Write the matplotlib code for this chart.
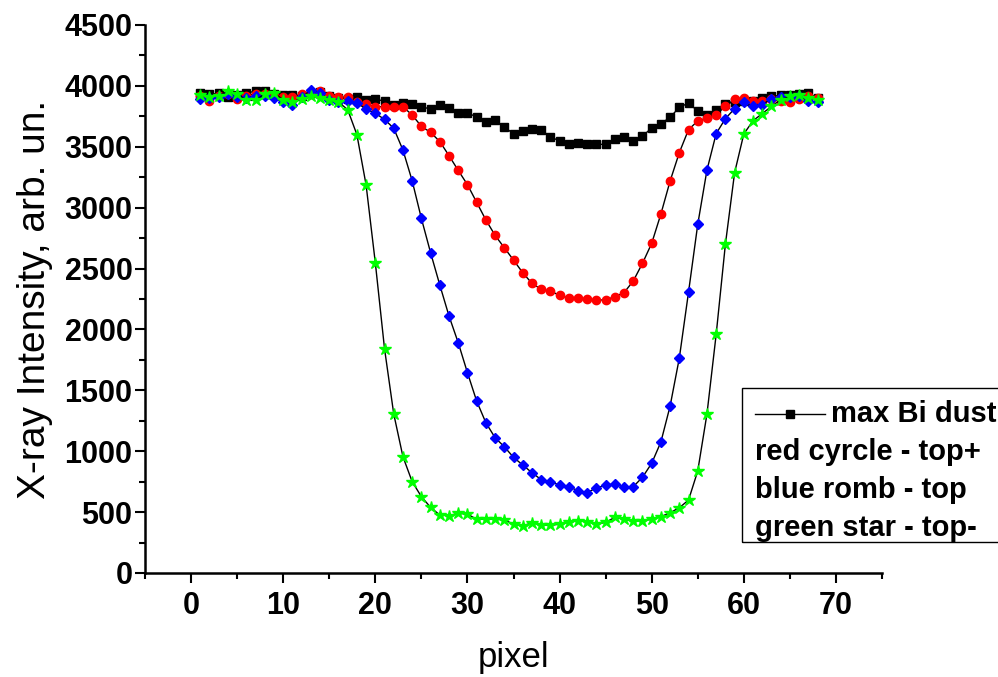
import matplotlib
matplotlib.use('Agg')
import matplotlib.pyplot as plt
from matplotlib.lines import Line2D
from matplotlib.patches import Rectangle
from matplotlib.ticker import MultipleLocator

plt.rcParams['font.family'] = ['Liberation Sans', 'DejaVu Sans']

pixel = list(range(1, 69))

max_bi = [3940, 3930, 3940, 3905, 3925, 3940, 3958, 3958, 3930, 3922,
          3922, 3915, 3940, 3953, 3917, 3900, 3895, 3906, 3881, 3890,
          3876, 3846, 3857, 3849, 3830, 3809, 3842, 3820, 3776, 3776,
          3747, 3701, 3717, 3665, 3605, 3627, 3646, 3638, 3583, 3547,
          3523, 3528, 3523, 3520, 3520, 3561, 3583, 3545, 3588, 3654,
          3690, 3742, 3824, 3859, 3794, 3761, 3802, 3851, 3870, 3880,
          3880, 3900, 3914, 3922, 3925, 3935, 3941, 3900]

top_plus = [3920, 3875, 3915, 3930, 3895, 3920, 3935, 3930, 3920, 3905,
            3910, 3935, 3930, 3955, 3920, 3905, 3909, 3870, 3850, 3829,
            3829, 3829, 3829, 3761, 3668, 3618, 3543, 3427, 3306, 3189,
            3044, 2899, 2773, 2671, 2570, 2466, 2379, 2330, 2313, 2282,
            2256, 2261, 2250, 2242, 2242, 2269, 2302, 2398, 2543, 2707,
            2948, 3219, 3452, 3641, 3712, 3734, 3764, 3832, 3892, 3900,
            3878, 3873, 3890, 3873, 3865, 3892, 3914, 3900]

top = [3890, 3900, 3905, 3930, 3910, 3900, 3920, 3920, 3900, 3868,
       3846, 3905, 3966, 3941, 3887, 3868, 3873, 3862, 3808, 3775,
       3725, 3652, 3473, 3221, 2912, 2630, 2365, 2110, 1891, 1645,
       1412, 1234, 1111, 1037, 950, 887, 824, 767, 748, 723,
       709, 676, 659, 700, 720, 733, 703, 709, 786, 901,
       1076, 1371, 1765, 2307, 2863, 3309, 3608, 3731, 3813, 3868,
       3832, 3846, 3895, 3905, 3910, 3920, 3873, 3868]

top_minus = [3928, 3906, 3920, 3955, 3936, 3881, 3881, 3936, 3941, 3887,
             3868, 3895, 3914, 3900, 3887, 3868, 3805, 3600, 3186, 2548,
             1842, 1306, 955, 750, 627, 539, 476, 471, 490, 484,
             441, 443, 443, 435, 402, 386, 413, 394, 392, 401,
             416, 430, 422, 402, 416, 457, 441, 427, 430, 441,
             463, 495, 536, 599, 838, 1306, 1960, 2699, 3287, 3605,
             3714, 3772, 3832, 3886, 3914, 3928, 3900, 3886]

legend_rows = ['max Bi dust', 'red cyrcle - top+', 'blue romb - top', 'green star - top-']

W, H = 998, 677
fig = plt.figure(figsize=(W / 100, H / 100), dpi=100)
ax = fig.add_axes([145 / W, 1 - 573 / H, (882 - 145) / W, (573 - 25) / H])

ax.plot(pixel, max_bi, '-', color='black', lw=1, marker='s', ms=5.5,
        mfc='black', mec='black')
ax.plot(pixel, top_plus, '-', color='black', lw=1, marker='o', ms=6,
        mfc='#ff0000', mec='#ff0000')
ax.plot(pixel, top, '-', color='black', lw=1, marker='D', ms=5.5,
        mfc='#0000ff', mec='#0000ff')
ax.plot(pixel, top_minus, '-', color='black', lw=1, marker='*', ms=9,
        mfc='#00ff00', mec='#00ff00')

ax.set_xlim(-5, 75)
ax.set_ylim(0, 4500)
ax.xaxis.set_major_locator(MultipleLocator(10))
ax.xaxis.set_minor_locator(MultipleLocator(5))
ax.yaxis.set_major_locator(MultipleLocator(500))
ax.yaxis.set_minor_locator(MultipleLocator(250))

for s in ('top', 'right'):
    ax.spines[s].set_visible(False)
for s in ('left', 'bottom'):
    ax.spines[s].set_linewidth(1.8)

ax.tick_params(which='major', direction='out', length=7, width=1.5,
               labelsize=22)
ax.tick_params(which='minor', direction='out', length=4, width=1.5)
ax.tick_params(axis='y', which='major', pad=2)
ax.tick_params(axis='x', which='major', pad=6)
for lab in ax.get_xticklabels() + ax.get_yticklabels():
    lab.set_fontweight('bold')

ax.set_xlabel('pixel', fontsize=25, labelpad=14)
ax.set_ylabel('X-ray Intensity, arb. un.', fontsize=28, labelpad=8)

# legend box, running off the right edge of the figure
fig.add_artist(Rectangle((742 / W, 1 - 542 / H), 0.4, 154 / H,
                         transform=fig.transFigure, fill=False,
                         edgecolor='black', lw=1, clip_on=False))
fig.add_artist(Line2D([755 / W, 825 / W], [1 - 414 / H, 1 - 414 / H],
                      transform=fig.transFigure, color='black', lw=1))
fig.add_artist(Line2D([790 / W], [1 - 414 / H], transform=fig.transFigure,
                      marker='s', ms=5.5, color='black', lw=0))
row_y = [414, 452, 490, 528]
fig.text(831 / W, 1 - row_y[0] / H, legend_rows[0], fontsize=21,
         fontweight='bold', va='center', ha='left')
for txt, yy in zip(legend_rows[1:], row_y[1:]):
    fig.text(755 / W, 1 - yy / H, txt, fontsize=21, fontweight='bold',
             va='center', ha='left')

fig.savefig('out.png', dpi=100)
